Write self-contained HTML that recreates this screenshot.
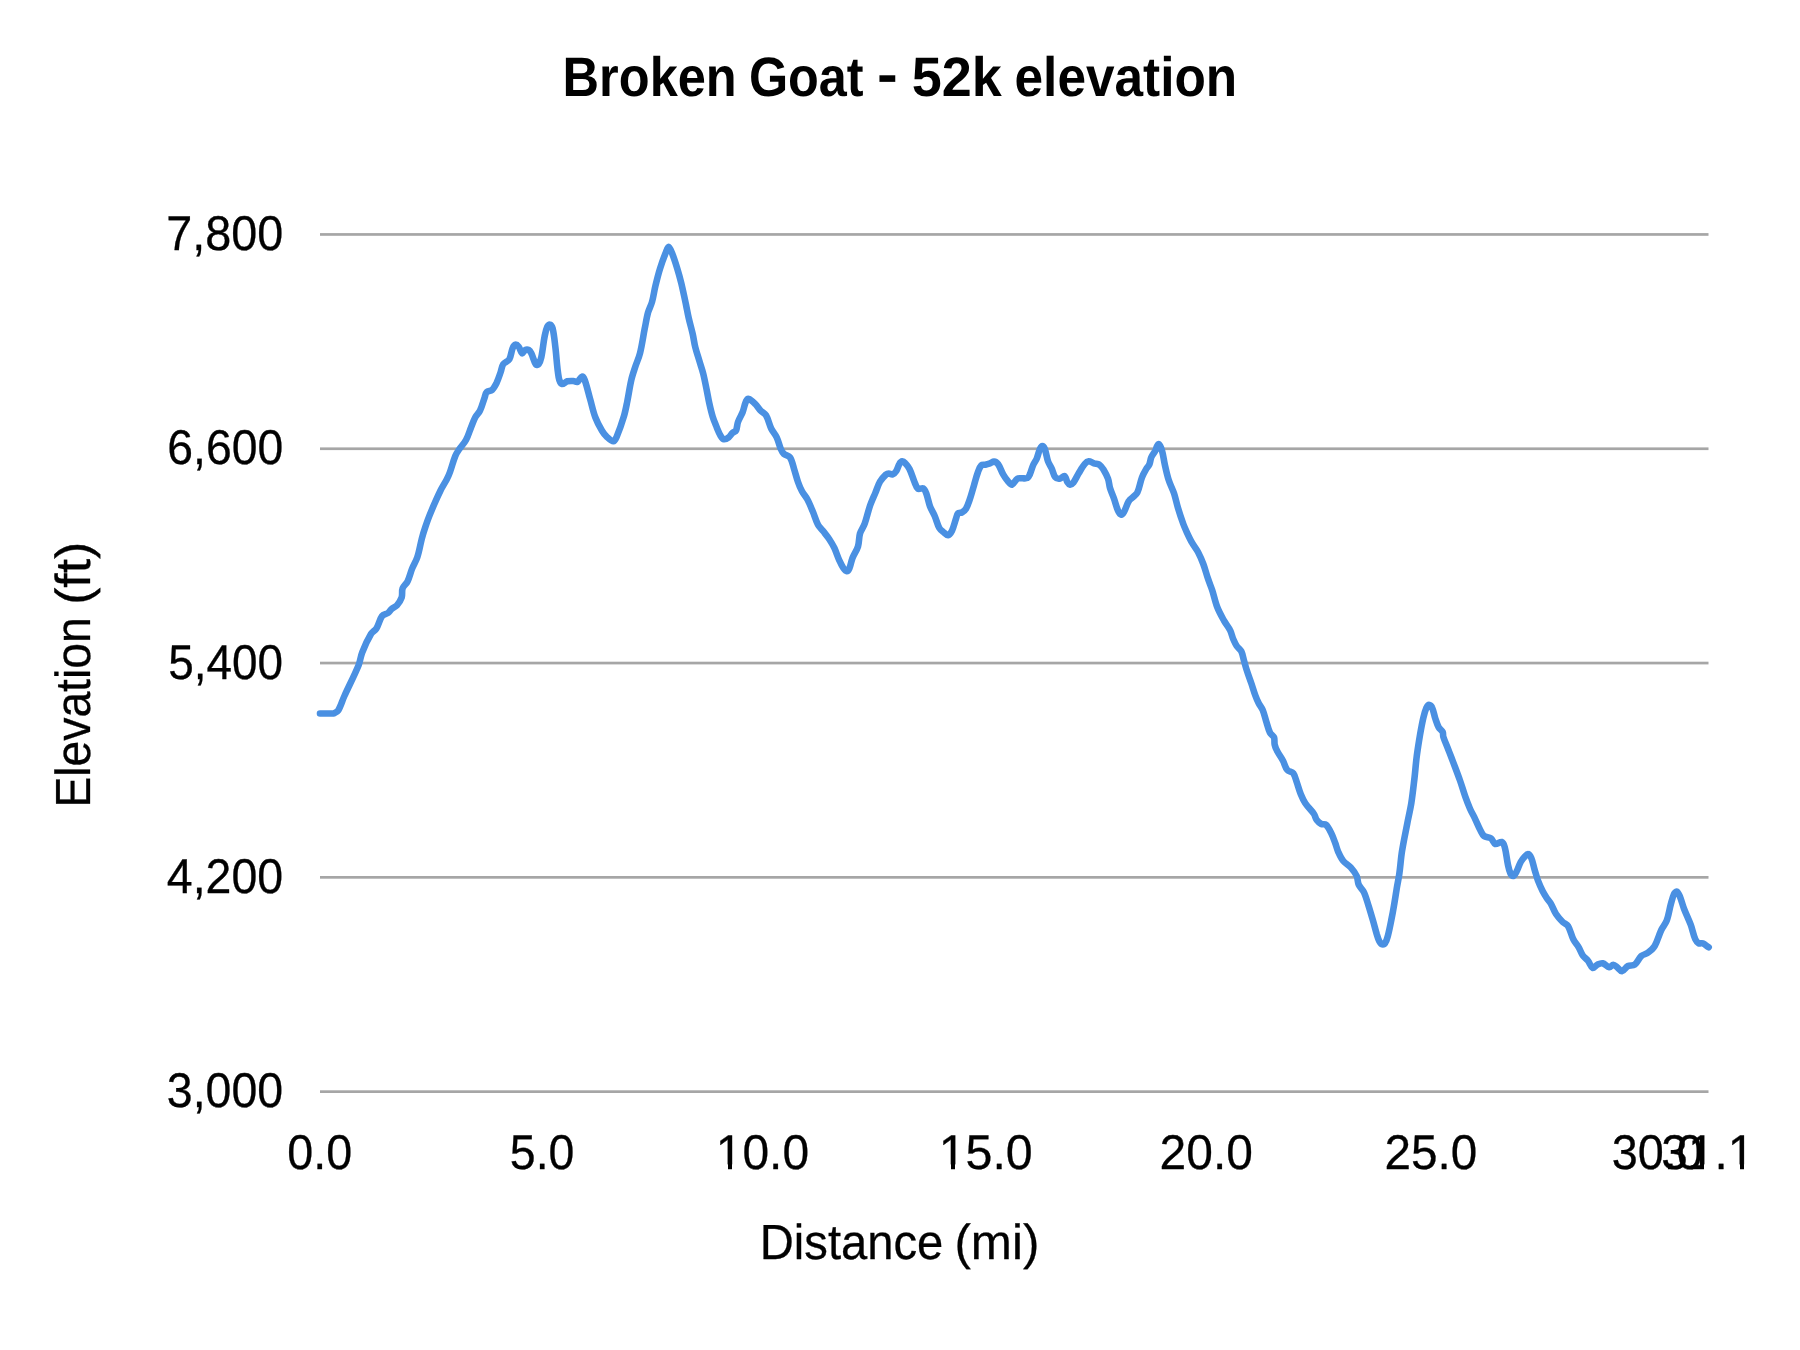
<!DOCTYPE html>
<html lang="en">
<head>
<meta charset="utf-8">
<title>Broken Goat - 52k elevation</title>
<style>
html,body{margin:0;padding:0;background:#fff;}
body{width:1800px;height:1350px;overflow:hidden;}
svg{display:block;}
text{font-family:"Liberation Sans",sans-serif;fill:#000;text-rendering:geometricPrecision;}
.t{font-weight:bold;font-size:55.65px;}
.l{font-size:48.7px;stroke:#000;stroke-width:0.3px;}
.a{font-size:49.3px;stroke:#000;stroke-width:0.3px;}
</style>
</head>
<body>
<svg width="1800" height="1350" viewBox="0 0 1800 1350">
<rect x="0" y="0" width="1800" height="1350" fill="#ffffff"/>
<rect x="320" y="233.1" width="1388.5" height="2.7" fill="#a6a6a6"/>
<rect x="320" y="447.4" width="1388.5" height="2.7" fill="#a6a6a6"/>
<rect x="320" y="661.7" width="1388.5" height="2.7" fill="#a6a6a6"/>
<rect x="320" y="876.0" width="1388.5" height="2.7" fill="#a6a6a6"/>
<rect x="320" y="1090.3" width="1388.5" height="2.7" fill="#a6a6a6"/>
<g opacity="0.999">
<text class="t" x="562.62" y="96.4" textLength="174.09" lengthAdjust="spacingAndGlyphs">Broken</text>
<text class="t" x="748.90" y="96.4" textLength="114.69" lengthAdjust="spacingAndGlyphs">Goat</text>
<text class="t" x="877.14" y="92.9" textLength="20.77" lengthAdjust="spacingAndGlyphs">-</text>
<text class="t" x="911.77" y="96.4" textLength="90.00" lengthAdjust="spacingAndGlyphs">52k</text>
<text class="t" x="1014.55" y="96.4" textLength="222.62" lengthAdjust="spacingAndGlyphs">elevation</text>
<text class="l" x="166.19" y="250.0" textLength="117.00" lengthAdjust="spacingAndGlyphs">7,800</text>
<text class="l" x="167.32" y="464.3" textLength="115.85" lengthAdjust="spacingAndGlyphs">6,600</text>
<text class="l" x="168.29" y="678.6" textLength="114.87" lengthAdjust="spacingAndGlyphs">5,400</text>
<text class="l" x="166.81" y="892.9" textLength="116.37" lengthAdjust="spacingAndGlyphs">4,200</text>
<text class="l" x="166.82" y="1107.2" textLength="116.36" lengthAdjust="spacingAndGlyphs">3,000</text>
<text class="l" x="287.36" y="1168.8" textLength="64.91" lengthAdjust="spacingAndGlyphs">0.0</text>
<text class="l" x="509.86" y="1168.8" textLength="64.60" lengthAdjust="spacingAndGlyphs">5.0</text>
<text class="l" x="715.78" y="1168.8" textLength="93.27" lengthAdjust="spacingAndGlyphs">10.0</text>
<text class="l" x="938.65" y="1168.8" textLength="94.03" lengthAdjust="spacingAndGlyphs">15.0</text>
<text class="l" x="1159.58" y="1168.8" textLength="93.28" lengthAdjust="spacingAndGlyphs">20.0</text>
<text class="l" x="1384.59" y="1168.8" textLength="92.76" lengthAdjust="spacingAndGlyphs">25.0</text>
<text class="l" x="1611.70" y="1168.8" textLength="91.11" lengthAdjust="spacingAndGlyphs">30.0</text>
<text class="l" x="1661.36" y="1168.8" textLength="92.90" lengthAdjust="spacingAndGlyphs">31.1</text>
<text class="a" x="759.82" y="1258.8" textLength="183.49" lengthAdjust="spacingAndGlyphs">Distance</text>
<text class="a" x="954.39" y="1258.8" textLength="84.97" lengthAdjust="spacingAndGlyphs">(mi)</text>
<text class="a" transform="translate(90.1,803.8) rotate(-90)" x="-3.81" y="0" textLength="190.31" lengthAdjust="spacingAndGlyphs">Elevation</text>
<text class="a" transform="translate(90.1,803.8) rotate(-90)" x="198.94" y="0" textLength="63.17" lengthAdjust="spacingAndGlyphs">(ft)</text>
</g>
<rect x="717" y="1164.4" width="11" height="5.6" fill="#ffffff"/>
<rect x="732" y="1164.4" width="10" height="5.6" fill="#ffffff"/>
<rect x="940" y="1164.4" width="11" height="5.6" fill="#ffffff"/>
<rect x="955" y="1164.4" width="10" height="5.6" fill="#ffffff"/>
<rect x="1704" y="1164.4" width="10.5" height="5.6" fill="#ffffff"/>
<rect x="1729" y="1164.4" width="11" height="5.6" fill="#ffffff"/>
<rect x="1744" y="1164.4" width="10" height="5.6" fill="#ffffff"/>
<path d="M320.0 713.5C322.0 713.5 324.0 713.5 326.0 713.5C327.7 713.5 329.3 713.5 331.0 713.5C331.9 713.5 333.0 713.7 333.8 713.4C335.4 712.7 337.3 712.0 338.2 710.5C340.8 706.2 342.2 700.8 344.4 696.0C349.1 685.6 354.4 675.4 358.7 664.9C360.3 660.9 360.6 656.4 362.2 652.4C364.7 646.0 367.6 639.7 371.1 633.8C372.4 631.7 375.1 630.5 376.4 628.4C378.8 624.6 379.5 619.5 382.1 616.0C383.4 614.3 386.3 614.3 388.0 613.0C389.4 611.9 390.2 610.1 391.6 608.9C393.2 607.5 395.5 606.9 396.9 605.3C398.9 603.0 400.7 600.2 401.7 597.3C402.6 594.5 401.6 591.1 402.6 588.4C403.6 585.8 406.4 583.9 407.6 581.3C409.5 577.4 410.4 573.0 412.0 568.9C413.6 565.0 416.0 561.3 417.3 557.3C419.3 551.3 420.2 544.9 421.8 538.7C422.8 534.8 424.0 530.9 425.3 527.1C426.7 522.9 428.1 518.8 429.8 514.7C433.1 506.6 436.6 498.6 440.4 490.7C442.3 486.8 444.7 483.3 446.7 479.5C447.9 477.1 449.1 474.6 450.0 472.0C451.9 466.7 453.2 461.2 455.3 456.0C456.1 453.9 457.4 451.9 458.7 450.0C461.0 446.6 464.1 443.6 466.0 440.0C468.3 435.8 469.5 431.1 471.3 426.7C472.6 423.5 473.7 420.3 475.3 417.3C476.6 414.9 478.9 413.1 480.0 410.7C482.0 406.5 483.1 401.8 484.7 397.3C485.3 395.5 485.5 393.2 486.7 392.0C487.9 390.8 490.7 391.2 492.0 390.0C494.0 388.1 495.4 385.3 496.7 382.7C498.3 379.3 499.4 375.6 500.7 372.0C501.6 369.4 501.8 366.2 503.3 364.0C504.7 362.0 508.1 361.4 509.3 359.3C511.2 356.1 511.2 351.6 512.7 348.0C513.2 346.7 514.3 344.9 515.3 344.7C516.3 344.5 517.9 345.7 518.7 346.7C520.2 348.6 520.7 352.6 522.0 353.3C522.9 353.7 524.0 350.6 525.3 350.0C526.2 349.5 527.8 349.5 528.7 350.0C529.8 350.6 530.7 352.1 531.3 353.3C533.1 357.0 534.0 361.8 536.0 364.7C536.5 365.4 538.2 364.7 538.7 364.0C540.0 362.2 540.8 359.6 541.3 357.3C542.8 350.3 543.3 343.0 544.7 336.0C545.3 332.8 546.0 329.5 547.3 326.7C547.8 325.7 549.3 324.4 550.0 324.7C551.1 325.1 552.3 327.2 552.7 328.7C554.1 334.5 554.6 340.7 555.3 346.7C556.6 356.9 556.9 367.3 558.7 377.3C559.1 379.7 560.4 383.3 562.0 384.0C563.3 384.6 565.4 381.8 567.3 381.3C569.2 380.8 571.3 380.9 573.3 381.0C574.7 381.1 576.2 382.5 577.3 382.0C579.1 381.1 580.5 377.1 582.0 376.7C582.9 376.4 584.2 378.7 584.7 380.0C586.9 386.0 588.2 392.5 590.0 398.7C591.8 404.9 593.0 411.3 595.3 417.3C597.0 422.0 599.4 426.4 602.0 430.7C603.4 433.1 605.3 435.4 607.3 437.3C609.0 438.9 611.6 441.4 613.3 441.3C614.7 441.2 616.0 438.4 616.7 436.7C619.5 430.0 621.9 423.0 624.0 416.0C625.4 411.2 626.3 406.2 627.3 401.3C628.7 394.2 629.7 387.0 631.3 380.0C632.3 375.5 633.9 371.1 635.3 366.7C636.8 362.2 638.9 357.9 640.0 353.3C642.0 345.2 643.1 336.9 644.7 328.7C645.8 323.4 646.6 317.9 648.0 312.7C649.0 309.0 651.0 305.7 652.0 302.0C653.5 296.8 654.1 291.3 655.4 286.0C656.8 280.2 658.2 274.4 660.0 268.7C661.6 263.5 663.5 258.4 665.5 253.3C666.4 251.1 667.5 246.9 668.6 246.9C669.7 246.9 671.2 251.0 672.1 253.3C674.1 258.3 675.7 263.5 677.3 268.7C678.8 273.5 680.1 278.4 681.3 283.3C683.0 290.4 684.5 297.6 686.0 304.7C686.9 309.1 687.7 313.6 688.7 318.0C689.9 323.4 691.5 328.6 692.7 334.0C693.7 338.4 694.2 342.9 695.3 347.3C696.4 351.8 698.0 356.2 699.3 360.7C700.6 365.1 702.2 369.5 703.3 374.0C704.6 379.3 705.6 384.7 706.7 390.0C707.6 394.4 708.3 398.9 709.3 403.3C710.3 407.8 711.3 412.3 712.7 416.7C713.8 420.3 715.3 423.8 716.7 427.3C717.9 430.2 719.1 433.3 720.7 436.0C721.5 437.3 722.7 439.1 724.0 439.3C725.4 439.5 727.4 438.3 728.7 437.3C730.3 436.1 731.2 434.0 732.7 432.7C733.6 431.8 735.5 431.8 736.0 430.7C737.2 428.2 737.0 424.8 738.0 422.0C739.2 418.6 741.4 415.4 742.7 412.0C744.0 408.5 744.5 404.6 746.0 401.3C746.5 400.3 747.8 398.7 748.7 399.0C750.9 399.6 753.3 402.1 755.3 404.0C757.3 406.0 758.7 408.6 760.7 410.7C762.3 412.4 764.8 413.3 766.0 415.3C768.4 419.3 769.2 424.4 771.3 428.7C772.8 431.7 775.3 434.3 776.7 437.3C778.4 440.9 779.1 445.0 780.7 448.7C781.5 450.6 782.5 452.6 784.0 454.0C785.6 455.5 788.8 455.5 790.0 457.3C792.1 460.4 792.8 464.9 794.0 468.7C795.4 473.1 796.5 477.6 798.0 482.0C799.1 485.2 800.4 488.3 802.0 491.3C803.5 494.1 805.8 496.5 807.3 499.3C809.4 503.2 811.0 507.3 812.7 511.3C814.6 515.7 815.8 520.5 818.0 524.7C819.3 527.2 821.6 529.1 823.3 531.3C825.3 533.9 827.5 536.5 829.3 539.3C831.2 542.2 833.0 545.2 834.5 548.3C836.3 552.2 837.5 556.4 839.3 560.3C840.5 562.9 841.7 565.6 843.3 568.0C844.2 569.3 845.6 571.2 846.7 571.3C847.6 571.4 848.8 569.8 849.3 568.7C850.8 565.4 851.1 561.5 852.5 558.0C854.0 554.1 856.8 550.5 858.0 546.5C859.3 542.4 858.8 537.7 860.0 533.5C861.0 530.1 863.5 527.1 864.7 523.7C866.8 517.8 868.0 511.6 870.0 505.7C871.5 501.4 873.5 497.2 875.3 493.0C876.9 489.2 878.0 485.2 880.0 481.7C881.5 479.0 883.8 476.6 886.0 474.5C886.7 473.9 887.8 473.5 888.7 473.5C890.0 473.5 891.4 474.9 892.5 474.5C893.9 474.0 895.4 472.4 896.3 471.0C897.7 468.8 898.1 465.9 899.5 463.7C900.1 462.7 901.3 461.4 902.3 461.3C903.3 461.2 904.5 462.4 905.3 463.3C906.9 465.0 908.5 466.9 909.5 469.0C911.5 473.0 912.6 477.5 914.4 481.7C915.4 484.1 916.2 487.4 918.0 488.7C919.2 489.6 922.0 487.6 923.3 488.4C924.8 489.2 925.6 491.7 926.3 493.5C927.8 497.6 928.5 502.2 930.0 506.3C931.3 509.7 933.3 512.7 934.7 516.0C936.4 519.9 937.3 524.3 939.3 528.0C940.2 529.6 941.9 530.8 943.3 532.0C944.8 533.2 946.6 535.5 948.0 535.3C949.5 535.1 951.1 532.5 952.0 530.7C953.8 527.0 954.6 522.7 956.0 518.7C956.6 516.9 956.8 514.5 958.0 513.3C958.8 512.4 960.9 513.1 962.0 512.4C963.5 511.5 965.1 510.2 966.0 508.7C967.8 505.7 968.8 502.1 970.0 498.7C971.5 494.3 972.7 489.8 974.0 485.3C975.3 480.9 976.4 476.3 978.0 472.0C978.9 469.7 979.7 466.9 981.3 465.3C982.2 464.4 984.0 465.0 985.3 464.7C986.9 464.3 988.5 463.8 990.0 463.3C991.4 462.8 992.7 461.5 994.0 461.6C995.4 461.7 997.1 462.8 998.0 464.0C1000.2 467.1 1001.3 471.3 1003.3 474.7C1004.6 477.0 1006.2 479.3 1008.0 481.3C1009.1 482.6 1010.8 485.0 1012.0 484.7C1013.9 484.2 1015.2 480.0 1017.3 478.7C1018.5 477.9 1020.4 478.4 1022.0 478.3C1023.8 478.2 1025.9 478.8 1027.3 478.0C1028.6 477.3 1029.3 475.5 1030.0 474.0C1031.3 471.0 1032.0 467.7 1033.3 464.7C1034.2 462.6 1035.8 460.8 1036.7 458.7C1038.0 455.5 1038.6 451.9 1040.0 448.7C1040.5 447.6 1041.5 446.0 1042.3 446.0C1043.1 446.0 1044.3 447.6 1044.7 448.7C1046.2 452.7 1046.6 457.2 1048.0 461.3C1048.9 463.8 1050.6 466.0 1051.7 468.5C1053.0 471.4 1053.5 475.0 1055.3 477.3C1056.2 478.4 1058.3 478.9 1059.7 478.7C1061.4 478.5 1063.4 475.5 1064.5 476.0C1066.0 476.7 1066.3 480.4 1067.5 482.3C1068.1 483.3 1069.1 484.6 1070.0 484.7C1071.0 484.8 1072.5 483.7 1073.3 482.7C1075.4 479.9 1076.8 476.4 1078.7 473.3C1080.6 470.2 1082.4 466.8 1084.7 464.0C1085.7 462.8 1087.3 461.4 1088.7 461.3C1090.4 461.2 1092.2 462.7 1094.0 463.3C1095.7 463.9 1097.8 463.8 1099.3 464.7C1100.9 465.8 1102.2 467.6 1103.3 469.3C1105.1 472.3 1106.8 475.4 1108.0 478.7C1109.1 481.7 1109.1 485.0 1110.0 488.0C1111.1 491.6 1112.7 495.1 1114.0 498.7C1115.4 502.7 1116.3 506.9 1118.0 510.7C1118.7 512.3 1120.1 514.5 1121.3 514.7C1122.1 514.9 1123.4 513.1 1124.0 512.0C1125.9 508.6 1126.7 504.6 1128.7 501.3C1129.6 499.7 1131.4 498.6 1132.7 497.3C1134.2 495.8 1136.4 494.6 1137.3 492.7C1139.5 488.0 1140.1 482.3 1142.0 477.3C1143.0 474.5 1144.5 471.9 1146.0 469.3C1146.9 467.7 1148.5 466.4 1149.3 464.7C1150.3 462.4 1150.3 459.6 1151.3 457.3C1152.3 455.0 1154.1 453.0 1155.3 450.7C1156.0 449.4 1156.2 447.9 1156.9 446.6C1157.4 445.7 1158.3 443.8 1158.8 444.2C1160.0 445.2 1161.3 448.4 1162.0 450.7C1163.3 455.0 1163.7 459.6 1164.7 464.0C1165.9 469.4 1167.0 474.8 1168.7 480.0C1170.1 484.5 1172.5 488.8 1174.0 493.3C1175.6 498.1 1176.5 503.1 1178.0 508.0C1179.6 513.4 1181.4 518.7 1183.3 524.0C1184.5 527.2 1185.9 530.2 1187.3 533.3C1188.8 536.5 1190.3 539.7 1192.0 542.7C1193.8 545.9 1196.3 548.8 1198.0 552.0C1200.0 555.9 1201.8 559.9 1203.3 564.0C1205.1 568.8 1206.3 573.8 1208.0 578.7C1209.3 582.7 1211.0 586.5 1212.3 590.5C1214.1 596.1 1215.2 601.9 1217.3 607.3C1219.1 611.9 1221.6 616.3 1224.0 620.7C1225.8 623.9 1228.4 626.7 1230.0 630.0C1231.5 632.9 1232.0 636.3 1233.3 639.3C1234.3 641.6 1235.3 643.9 1236.7 646.0C1238.0 647.9 1240.3 649.3 1241.3 651.3C1242.7 654.2 1243.1 657.6 1244.0 660.7C1244.9 663.8 1245.7 666.9 1246.7 670.0C1248.1 674.5 1249.8 678.9 1251.3 683.3C1252.7 687.3 1253.8 691.3 1255.3 695.3C1256.3 698.0 1257.4 700.7 1258.7 703.3C1259.9 705.6 1261.7 707.6 1262.7 710.0C1264.1 713.4 1264.9 717.1 1266.0 720.7C1267.3 724.7 1268.2 729.0 1270.0 732.7C1270.9 734.5 1273.3 735.5 1274.0 737.3C1274.9 739.5 1274.1 742.3 1274.7 744.7C1275.2 747.0 1276.2 749.2 1277.3 751.3C1279.0 754.5 1281.3 757.5 1283.0 760.7C1284.6 763.7 1285.2 767.5 1287.3 770.0C1288.7 771.7 1292.0 771.6 1293.3 773.3C1295.1 775.6 1295.7 779.1 1296.7 782.0C1298.1 786.0 1299.1 790.1 1300.7 794.0C1302.0 797.2 1303.4 800.4 1305.3 803.3C1307.8 807.1 1311.4 810.2 1314.0 814.0C1315.2 815.8 1315.4 818.3 1316.7 820.0C1317.9 821.6 1319.6 823.1 1321.3 824.0C1322.7 824.7 1324.9 823.7 1326.0 824.7C1328.3 826.8 1329.8 830.3 1331.3 833.3C1332.9 836.5 1334.0 839.9 1335.3 843.3C1336.3 845.9 1336.8 848.7 1338.0 851.3C1339.5 854.6 1341.0 858.2 1343.3 861.0C1345.3 863.5 1348.6 864.9 1350.7 867.3C1353.0 869.9 1355.3 872.9 1356.7 876.0C1357.9 878.7 1357.5 882.0 1358.7 884.7C1359.9 887.5 1362.7 889.5 1364.0 892.3C1366.0 896.7 1367.2 901.6 1368.7 906.3C1370.2 911.1 1371.6 915.9 1373.0 920.7C1374.3 925.1 1375.4 929.6 1376.7 934.0C1377.5 936.5 1378.1 939.0 1379.3 941.3C1379.9 942.5 1381.0 944.1 1382.0 944.3C1383.0 944.5 1384.7 943.7 1385.3 942.7C1386.7 940.7 1387.3 937.8 1388.0 935.3C1389.3 930.3 1390.3 925.1 1391.3 920.0C1392.3 915.2 1393.2 910.3 1394.0 905.5C1395.0 899.9 1395.8 894.3 1396.7 888.7C1397.5 883.8 1398.6 878.9 1399.3 874.0C1400.4 866.5 1400.8 858.8 1402.0 851.3C1403.5 841.9 1405.5 832.6 1407.3 823.3C1408.6 816.6 1410.2 810.0 1411.3 803.3C1412.6 794.9 1413.5 786.4 1414.5 778.0C1415.3 770.9 1415.8 763.8 1416.7 756.7C1417.6 749.4 1418.8 742.2 1420.0 735.0C1421.0 729.3 1422.0 723.6 1423.3 718.0C1424.1 714.4 1425.1 710.8 1426.5 707.5C1427.0 706.4 1428.1 704.7 1429.0 704.7C1429.9 704.7 1431.5 706.1 1432.0 707.3C1433.6 710.7 1434.1 714.8 1435.3 718.5C1436.3 721.5 1437.2 724.6 1438.7 727.3C1439.7 729.1 1441.8 730.2 1442.7 732.0C1443.4 733.4 1442.8 735.2 1443.3 736.7C1444.5 740.5 1446.2 744.2 1447.7 748.0C1448.9 751.1 1450.1 754.2 1451.3 757.3C1452.5 760.5 1453.8 763.8 1455.0 767.0C1456.7 771.5 1458.4 776.0 1460.0 780.5C1461.9 785.9 1463.4 791.3 1465.3 796.7C1466.7 800.7 1468.3 804.8 1470.0 808.7C1471.6 812.3 1473.6 815.7 1475.3 819.3C1477.1 823.0 1478.6 826.9 1480.5 830.5C1481.5 832.4 1482.4 834.8 1484.0 836.0C1485.9 837.4 1489.1 837.0 1491.0 838.4C1492.8 839.7 1493.5 843.4 1495.3 844.0C1497.0 844.6 1500.0 841.5 1501.7 842.0C1503.2 842.5 1504.2 845.1 1504.7 847.0C1506.3 852.8 1506.7 859.0 1508.0 865.0C1508.6 867.9 1509.3 870.9 1510.5 873.5C1511.0 874.6 1512.5 876.3 1513.3 876.0C1514.6 875.6 1515.8 873.0 1516.7 871.3C1518.3 868.3 1519.1 864.9 1520.7 862.0C1521.9 859.8 1523.6 857.8 1525.3 856.0C1526.0 855.2 1527.2 853.7 1528.0 854.0C1529.2 854.4 1530.6 856.4 1531.3 858.0C1532.9 861.8 1533.5 866.0 1534.7 870.0C1535.8 873.6 1536.7 877.2 1538.0 880.7C1539.4 884.3 1541.0 887.9 1542.7 891.3C1543.9 893.6 1545.3 895.8 1546.7 898.0C1547.9 899.8 1549.6 901.4 1550.7 903.3C1552.7 906.7 1553.9 910.7 1556.0 914.0C1557.9 916.9 1560.3 919.6 1562.7 922.0C1564.3 923.6 1566.9 924.2 1568.0 926.0C1570.4 929.9 1571.2 935.1 1573.3 939.3C1574.7 942.2 1577.1 944.5 1578.7 947.3C1580.2 949.9 1581.0 952.9 1582.7 955.3C1584.1 957.3 1586.4 958.7 1588.0 960.7C1589.8 963.0 1590.8 967.2 1592.7 968.0C1593.9 968.5 1595.6 965.5 1597.3 964.7C1599.0 963.9 1601.0 962.9 1602.7 963.3C1605.0 963.8 1607.1 967.0 1609.3 967.3C1610.6 967.5 1612.0 964.7 1613.3 964.7C1614.6 964.7 1616.0 966.3 1617.3 967.3C1618.9 968.5 1620.4 971.5 1622.0 971.3C1624.0 971.1 1625.7 967.2 1628.0 966.0C1629.9 965.0 1633.0 966.0 1634.7 964.7C1637.4 962.6 1638.7 958.4 1641.3 956.0C1643.1 954.4 1646.0 954.2 1648.0 952.7C1650.5 950.8 1653.1 948.7 1654.7 946.0C1657.6 941.1 1658.8 935.2 1661.3 930.0C1662.8 926.8 1665.5 924.0 1666.7 920.7C1668.6 915.6 1669.3 910.0 1670.7 904.7C1671.7 901.1 1672.5 897.3 1674.0 894.0C1674.5 892.9 1676.0 891.3 1676.7 891.6C1678.0 892.2 1679.2 894.9 1680.0 896.7C1681.6 900.6 1682.5 904.8 1684.0 908.7C1686.1 914.1 1688.7 919.3 1690.7 924.7C1692.5 929.5 1693.3 934.7 1695.3 939.3C1696.0 940.9 1697.3 942.5 1698.7 943.3C1699.8 943.9 1701.5 942.8 1702.7 943.3C1704.8 944.2 1706.7 946.0 1708.7 947.3" fill="none" stroke="#4a90e2" stroke-width="6.6" stroke-linejoin="round" stroke-linecap="round"/>
</svg>
</body>
</html>
